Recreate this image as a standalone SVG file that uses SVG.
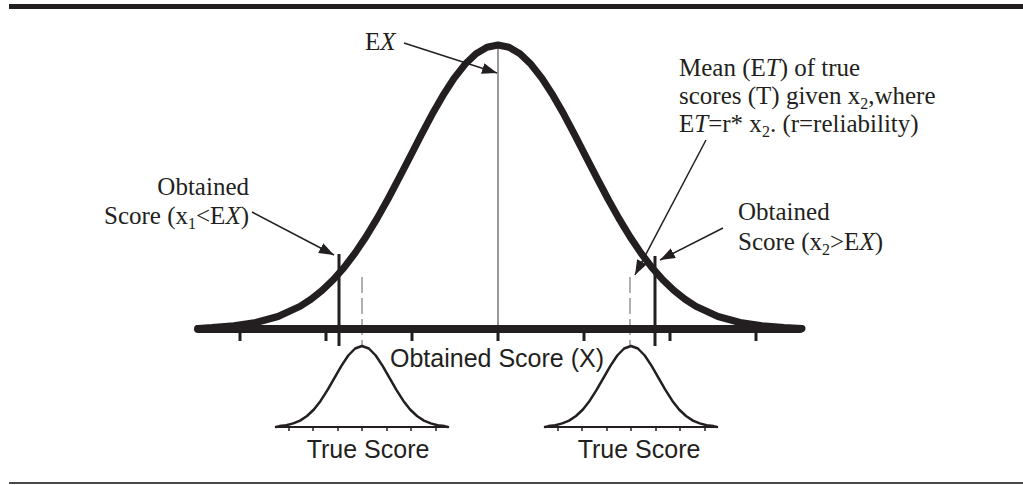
<svg xmlns="http://www.w3.org/2000/svg" xmlns:xlink="http://www.w3.org/1999/xlink" width="1023" height="485" viewBox="0 0 1023 485">
<style>
.serif{font-family:"Liberation Serif","Times New Roman",serif;font-size:25px;fill:#231f20}
.sans{font-family:"Liberation Sans",Arial,sans-serif;font-size:25px;fill:#231f20}
.sub{font-size:16px}
.it{font-style:italic}
.curve{fill:none;stroke:#231f20;stroke-linejoin:round;stroke-linecap:round}
.tick{stroke:#231f20;stroke-width:3}
.stick{stroke:#231f20;stroke-width:1.5}
.dash{stroke:#b0b0b0;stroke-width:2;stroke-dasharray:16,5}
.conn{stroke:#231f20;stroke-width:1.5;fill:none}
</style>
<defs>
<marker id="ah" markerUnits="userSpaceOnUse" markerWidth="15" markerHeight="11" refX="15" refY="5.5" orient="auto">
<path d="M0,0 L15,5.5 L0,11 z" fill="#231f20"/>
</marker>
<g id="small">
<path class="curve" style="stroke-width:2.5" d="M-86,0 L-82.5,-0.9 L-75.6,-1.8 L-68.75,-3.6 L-61.9,-6.4 L-55,-11 L-48.1,-17.5 L-41.25,-26.3 L-34.4,-37.1 L-27.5,-49.1 L-20.6,-61.1 L-13.75,-71.5 L-6.9,-78.5 L0,-81 L6.9,-78.5 L13.75,-71.5 L20.6,-61.1 L27.5,-49.1 L34.4,-37.1 L41.25,-26.3 L48.1,-17.5 L55,-11 L61.9,-6.4 L68.75,-3.6 L75.6,-1.8 L82.5,-0.9 L86,0"/>
<line x1="-86" y1="0" x2="86" y2="0" stroke="#231f20" stroke-width="2"/>
<line class="stick" x1="-73" y1="0" x2="-73" y2="4"/>
<line class="stick" x1="-49" y1="0" x2="-49" y2="4"/>
<line class="stick" x1="-24" y1="0" x2="-24" y2="4"/>
<line class="stick" x1="0" y1="0" x2="0" y2="4"/>
<line class="stick" x1="25" y1="0" x2="25" y2="4"/>
<line class="stick" x1="49" y1="0" x2="49" y2="4"/>
<line class="stick" x1="74" y1="0" x2="74" y2="4"/>
</g>
</defs>
<rect width="1023" height="485" fill="#ffffff"/>
<g id="frame">
<rect x="9" y="4" width="1014" height="5" fill="#231f20"/>
<rect x="9" y="482" width="1014" height="2" fill="#4a4a4a"/>
</g>
<g id="ex-line">
<line x1="498" y1="46" x2="498" y2="329" stroke="#555" stroke-width="1.2"/>
</g>
<g id="main-curve">
<polyline class="curve" style="stroke-width:7" points="198,328.4 212,327.6 234,325.8 256,322.5 278,316.5 300,306.4 311,299.3 322,290.6 333,280.0 344,267.6 355,253.1 366,236.8 377,218.6 388,199.0 399,178.2 410,156.8 421,135.3 432,114.6 443,95.4 454,78.4 465,64.3 476,53.7 487,47.2 498,45 509,47.2 520,53.7 531,64.3 542,78.4 553,95.4 564,114.6 575,135.3 586,156.8 597,178.2 608,199.0 619,218.6 630,236.8 641,253.1 652,267.6 663,280.0 674,290.6 685,299.3 696,306.4 718,316.5 740,322.5 762,325.8 784,327.6 802,328.4"/>
</g>
<g id="et-lines">
<line class="dash" x1="362" y1="277" x2="362" y2="345"/>
<line class="dash" x1="630" y1="277" x2="630" y2="345"/>
</g>
<g id="axis">
<line x1="198" y1="329" x2="800" y2="329" stroke="#231f20" stroke-width="8" stroke-linecap="round"/>
<line class="tick" x1="240" y1="329" x2="240" y2="341"/>
<line class="tick" x1="326" y1="329" x2="326" y2="341"/>
<line class="tick" x1="412" y1="329" x2="412" y2="341"/>
<line class="tick" x1="498" y1="329" x2="498" y2="341"/>
<line class="tick" x1="584" y1="329" x2="584" y2="341"/>
<line class="tick" x1="670" y1="329" x2="670" y2="341"/>
<line class="tick" x1="756" y1="329" x2="756" y2="341"/>
<text class="sans" x="497" y="367" text-anchor="middle">Obtained Score (X)</text>
</g>
<g id="x1-line">
<line x1="339" y1="254" x2="339" y2="346" stroke="#231f20" stroke-width="3"/>
</g>
<g id="x2-line">
<line x1="655" y1="256" x2="655" y2="346" stroke="#231f20" stroke-width="3"/>
</g>
<g id="true-left">
<use xlink:href="#small" href="#small" transform="translate(362,427)"/>
<text class="sans" x="368" y="458" text-anchor="middle">True Score</text>
</g>
<g id="true-right">
<use xlink:href="#small" href="#small" transform="translate(631,427)"/>
<text class="sans" x="639" y="458" text-anchor="middle">True Score</text>
</g>
<g id="label-ex">
<text class="serif" x="365" y="50">E<tspan class="it">X</tspan></text>
</g>
<g id="label-x1">
<text class="serif" x="249" y="195" text-anchor="end">Obtained</text>
<text class="serif" x="249" y="224" text-anchor="end">Score (x<tspan class="sub" dy="5">1</tspan><tspan dy="-5">&lt;E</tspan><tspan class="it">X</tspan>)</text>
</g>
<g id="label-x2">
<text class="serif" x="738" y="220">Obtained</text>
<text class="serif" x="738" y="250">Score (x<tspan class="sub" dy="5">2</tspan><tspan dy="-5">&gt;E</tspan><tspan class="it">X</tspan>)</text>
</g>
<g id="label-et">
<text class="serif" x="679" y="76">Mean (E<tspan class="it">T</tspan>) of true</text>
<text class="serif" x="679" y="104">scores (T) given x<tspan class="sub" dy="5">2</tspan><tspan dy="-5">,where</tspan></text>
<text class="serif" x="679" y="132">E<tspan class="it">T</tspan>=r* x<tspan class="sub" dy="5">2</tspan><tspan dy="-5">. (r=reliability)</tspan></text>
</g>
<g id="connectors">
<line class="conn" x1="404" y1="43" x2="497" y2="73" marker-end="url(#ah)"/>
<line class="conn" x1="252" y1="212" x2="334" y2="255" marker-end="url(#ah)"/>
<line class="conn" x1="723" y1="228" x2="660" y2="260" marker-end="url(#ah)"/>
<line class="conn" x1="706" y1="140" x2="635" y2="275" marker-end="url(#ah)"/>
</g>
</svg>
